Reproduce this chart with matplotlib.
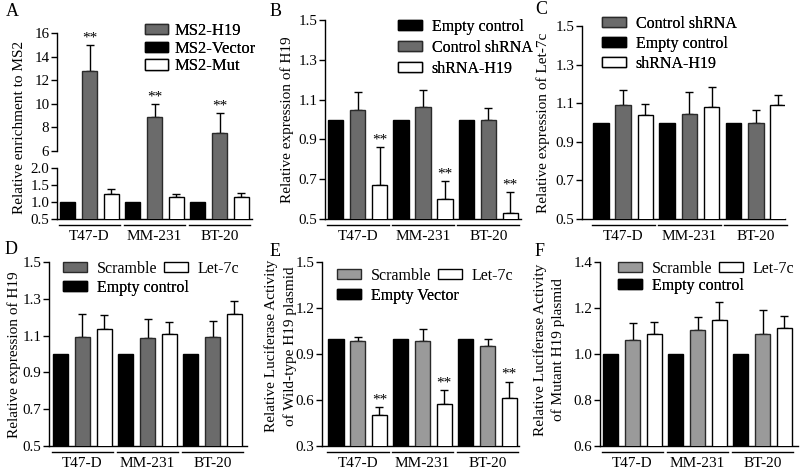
import matplotlib
matplotlib.use("Agg")
import matplotlib.pyplot as plt
import numpy as np
from matplotlib.patches import Patch
from matplotlib.transforms import blended_transform_factory

plt.rcParams['font.family'] = ['Liberation Serif', 'DejaVu Serif']
plt.rcParams['axes.linewidth'] = 1.0

W, H = 800, 474
cells = ['T47-D', 'MM-231', 'BT-20']

# Panel A
a_vector = [1.0, 1.0, 1.0]
a_h19 = [12.8, 8.9, 7.5]
a_h19_err = [2.15, 1.1, 1.7]
a_mut = [1.24, 1.14, 1.14]
a_mut_err = [0.15, 0.10, 0.13]

# Panel B
b_empty = [1.0, 1.0, 1.0]
b_ctrl = [1.05, 1.065, 1.0]
b_ctrl_err = [0.09, 0.085, 0.06]
b_sh = [0.67, 0.60, 0.53]
b_sh_err = [0.19, 0.09, 0.105]

# Panel C
c_empty = [1.0, 1.0, 1.0]
c_ctrl = [1.09, 1.045, 1.0]
c_ctrl_err = [0.08, 0.115, 0.065]
c_sh = [1.04, 1.08, 1.09]
c_sh_err = [0.055, 0.105, 0.05]

# Panel D
d_empty = [1.0, 1.0, 1.0]
d_scr = [1.09, 1.085, 1.095]
d_scr_err = [0.125, 0.105, 0.085]
d_let = [1.135, 1.11, 1.215]
d_let_err = [0.075, 0.065, 0.075]

# Panel E
e_empty = [1.0, 1.0, 1.0]
e_scr = [0.985, 0.985, 0.955]
e_scr_err = [0.025, 0.075, 0.04]
e_let = [0.50, 0.575, 0.615]
e_let_err = [0.055, 0.09, 0.105]

# Panel F
f_empty = [1.0, 1.0, 1.0]
f_scr = [1.06, 1.105, 1.085]
f_scr_err = [0.075, 0.055, 0.105]
f_let = [1.085, 1.15, 1.115]
f_let_err = [0.055, 0.075, 0.05]

DARK = '#6b6b6b'
LIGHT = '#9a9a9a'
PITCH = 0.335
BW = 0.235
TICK_FS = 10.8
LAB_FS = 11
LEG_FS = 11.5

fig = plt.figure(figsize=(W / 100, H / 100), dpi=100)


def px_axes(l, t, r, b):
    return fig.add_axes([l / W, 1 - b / H, (r - l) / W, (b - t) / H])


def style(ax, bottom=True):
    for s in ['top', 'right']:
        ax.spines[s].set_visible(False)
    if not bottom:
        ax.spines['bottom'].set_visible(False)
    ax.tick_params(axis='y', direction='out', length=4, width=1.0,
                   labelsize=TICK_FS, pad=1.5)


def edge_of(c):
    return '#2a2a2a' if c in (DARK, LIGHT) else 'black'


def bars(ax, vals, errs, colors, stars=None):
    x = np.arange(len(cells))
    for i, (v, e, c) in enumerate(zip(vals, errs, colors)):
        xx = x + (i - 1) * PITCH
        ax.bar(xx, v, width=BW, color=c, edgecolor=edge_of(c),
               linewidth=1.0, zorder=3)
        if e is not None:
            ax.errorbar(xx, v, yerr=[np.zeros(len(v)), e], fmt='none',
                        ecolor='black', elinewidth=1.0, capsize=3, capthick=1.0,
                        zorder=2)
            if stars is not None and stars == i:
                for xi, top in zip(xx, np.array(v) + np.array(e)):
                    ax.annotate('**', (xi, top), xytext=(0, 0.5),
                                textcoords='offset points', ha='center',
                                va='bottom', fontsize=11, zorder=4)


def xaxis_groups(ax, height_px):
    x = np.arange(len(cells))
    ax.set_xticks(x)
    ax.set_xticklabels(cells, fontsize=LAB_FS)
    ax.tick_params(axis='x', length=0, pad=8)
    tr = blended_transform_factory(ax.transData, ax.transAxes)
    yl = -6.0 / height_px
    for xi in x:
        ax.plot([xi - 0.475, xi + 0.475], [yl, yl], color='black', lw=1.0,
                transform=tr, clip_on=False)


def legend(ax, items, anchor_px, ncol=1, labelspacing=0.2, columnspacing=0.45,
           handletextpad=0.6, handlelength=1.5, fs=LEG_FS):
    handles = [Patch(facecolor=c, edgecolor=edge_of(c),
                     linewidth=1.0, label=l) for l, c in items]
    leg = ax.legend(handles=handles, loc='upper left',
                    bbox_to_anchor=(anchor_px[0] / W, 1 - anchor_px[1] / H),
                    bbox_transform=fig.transFigure, frameon=False, ncol=ncol,
                    fontsize=fs, borderpad=0, borderaxespad=0,
                    labelspacing=labelspacing, columnspacing=columnspacing,
                    handletextpad=handletextpad, handlelength=handlelength,
                    handleheight=0.6)
    ax.add_artist(leg)
    return leg


TOP_SPINE = 219
BOT_SPINE = 446

# ---------------- Panel A (broken axis) ----------------
a_top_px, a_six_px, a_two_px = 33, 151, 168
a_gap = (a_six_px + a_two_px) / 2
upx = (a_six_px - a_top_px) / 10.0
lpx = (TOP_SPINE - a_two_px) / 1.5
axA_top = px_axes(57, a_top_px, 252, a_gap)
axA_bot = px_axes(57, a_gap, 252, TOP_SPINE)
for ax in (axA_top, axA_bot):
    bars(ax, [a_vector, a_h19, a_mut], [None, a_h19_err, a_mut_err],
         ['black', DARK, 'white'], stars=1 if ax is axA_top else None)
    ax.set_xlim(-0.5, 2.5)
axA_top.set_ylim(6 - (a_gap - a_six_px) / upx, 16)
axA_top.set_yticks([6, 8, 10, 12, 14, 16])
axA_top.spines['left'].set_bounds(6, 16)
style(axA_top, bottom=False)
axA_top.set_xticks([])
axA_bot.set_ylim(0.5, 2.0 + (a_two_px - a_gap) / lpx)
axA_bot.set_yticks([0.5, 1.0, 1.5, 2.0])
axA_bot.set_yticklabels(['0.5', '1.0', '1.5', '2.0'])
axA_bot.spines['left'].set_bounds(0.5, 2.0)
style(axA_bot)
xaxis_groups(axA_bot, TOP_SPINE - a_gap)
legend(axA_top, [('MS2-H19', DARK), ('MS2-Vector', 'black'), ('MS2-Mut', 'white')],
       (145, 23), labelspacing=0.1, handletextpad=0.35, handlelength=1.4, fs=12)
fig.text(20 / W, 1 - 127 / H, 'Relative enrichment to MS2', rotation=90,
         ha='center', va='center', fontsize=LAB_FS)
fig.text(6 / W, 1 - 12 / H, 'A', fontsize=13, ha='left', va='center')

# ---------------- Panel B ----------------
axB = px_axes(325, 20, 521, TOP_SPINE)
bars(axB, [b_empty, b_ctrl, b_sh], [None, b_ctrl_err, b_sh_err],
     ['black', DARK, 'white'], stars=2)
axB.set_xlim(-0.5, 2.5)
axB.set_ylim(0.5, 1.5)
axB.set_yticks([0.5, 0.7, 0.9, 1.1, 1.3, 1.5])
style(axB)
xaxis_groups(axB, TOP_SPINE - 20)
legend(axB, [('Empty control', 'black'), ('Control shRNA', DARK), ('shRNA-H19', 'white')],
       (398, 19), labelspacing=0.3)
fig.text(287 / W, 1 - 120 / H, 'Relative expression of H19', rotation=90,
         ha='center', va='center', fontsize=LAB_FS)
fig.text(270 / W, 1 - 12 / H, 'B', fontsize=13, ha='left', va='center')

# ---------------- Panel C ----------------
axC = px_axes(582, 26, 785, TOP_SPINE)
bars(axC, [c_empty, c_ctrl, c_sh], [None, c_ctrl_err, c_sh_err],
     ['black', DARK, 'white'])
axC.set_xlim(-0.62, 2.44)
axC.set_ylim(0.5, 1.5)
axC.set_yticks([0.5, 0.7, 0.9, 1.1, 1.3, 1.5])
style(axC)
xaxis_groups(axC, TOP_SPINE - 26)
legend(axC, [('Control shRNA', DARK), ('Empty control', 'black'), ('shRNA-H19', 'white')],
       (602, 16), labelspacing=0.25)
fig.text(543 / W, 1 - 123 / H, 'Relative expression of Let-7c', rotation=90,
         ha='center', va='center', fontsize=LAB_FS)
fig.text(535 / W, 1 - 10 / H, 'C', fontsize=13, ha='left', va='center')


def two_row_legend(ax, scr_color, empty_label, x0, row1_top, row2_top):
    legend(ax, [('Scramble', scr_color), ('Let-7c', 'white')], (x0, row1_top),
           ncol=2, columnspacing=0.45, handletextpad=0.6)
    legend(ax, [(empty_label, 'black')], (x0, row2_top), handletextpad=0.6)


# ---------------- Panel D ----------------
axD = px_axes(49, 262, 247, BOT_SPINE)
bars(axD, [d_empty, d_scr, d_let], [None, d_scr_err, d_let_err],
     ['black', DARK, 'white'])
axD.set_xlim(-0.515, 2.53)
axD.set_ylim(0.5, 1.5)
axD.set_yticks([0.5, 0.7, 0.9, 1.1, 1.3, 1.5])
style(axD)
xaxis_groups(axD, BOT_SPINE - 262)
two_row_legend(axD, DARK, 'Empty control', 63, 261, 280)
fig.text(14 / W, 1 - 355 / H, 'Relative expression of H19', rotation=90,
         ha='center', va='center', fontsize=LAB_FS)
fig.text(5 / W, 1 - 250 / H, 'D', fontsize=13, ha='left', va='center')

# ---------------- Panel E ----------------
axE = px_axes(322, 262, 519, BOT_SPINE)
bars(axE, [e_empty, e_scr, e_let], [None, e_scr_err, e_let_err],
     ['black', LIGHT, 'white'], stars=2)
axE.set_xlim(-0.55, 2.485)
axE.set_ylim(0.3, 1.5)
axE.set_yticks([0.3, 0.6, 0.9, 1.2, 1.5])
style(axE)
xaxis_groups(axE, BOT_SPINE - 262)
two_row_legend(axE, LIGHT, 'Empty Vector', 337, 268, 288)
fig.text(271 / W, 1 - 346 / H, 'Relative Luciferase Activity', rotation=90,
         ha='center', va='center', fontsize=LAB_FS)
fig.text(290 / W, 1 - 346 / H, 'of Wild-type H19 plasmid', rotation=90,
         ha='center', va='center', fontsize=LAB_FS)
fig.text(270 / W, 1 - 252 / H, 'E', fontsize=13, ha='left', va='center')

# ---------------- Panel F ----------------
axF = px_axes(600, 262, 798, BOT_SPINE)
bars(axF, [f_empty, f_scr, f_let], [None, f_scr_err, f_let_err],
     ['black', LIGHT, 'white'])
axF.set_xlim(-0.5, 2.546)
axF.set_ylim(0.6, 1.4)
axF.set_yticks([0.6, 0.8, 1.0, 1.2, 1.4])
style(axF)
xaxis_groups(axF, BOT_SPINE - 262)
two_row_legend(axF, LIGHT, 'Empty control', 618, 261, 278)
fig.text(540 / W, 1 - 350 / H, 'Relative Luciferase Activity', rotation=90,
         ha='center', va='center', fontsize=LAB_FS)
fig.text(558 / W, 1 - 350 / H, 'of Mutant H19 plasmid', rotation=90,
         ha='center', va='center', fontsize=LAB_FS)
fig.text(535 / W, 1 - 252 / H, 'F', fontsize=13, ha='left', va='center')

fig.savefig('out.png', dpi=100)
